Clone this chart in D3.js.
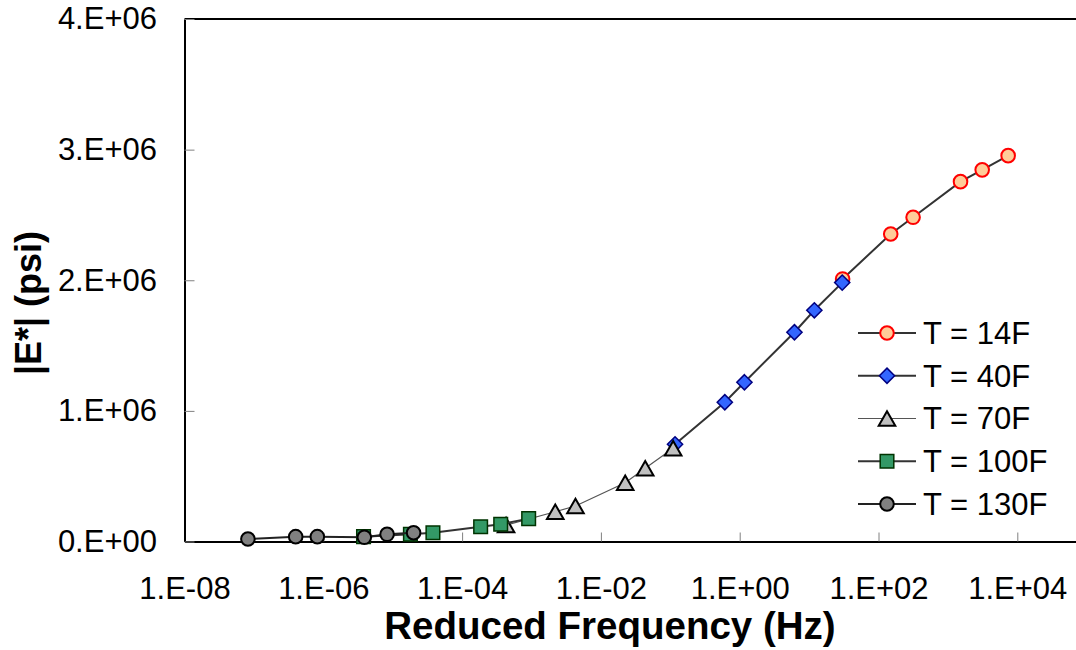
<!DOCTYPE html>
<html>
<head>
<meta charset="utf-8">
<script src="https://cdn.jsdelivr.net/npm/d3@7"></script>
<style>
  html, body { margin: 0; padding: 0; background: #fff; }
  svg { display: block; font-family: Arial, "Liberation Sans", sans-serif; }
</style>
</head>
<body>
<svg id="chart" width="1076" height="650"></svg>
<script>
// ---------------- data ----------------
const seriesNames = ["T = 14F", "T = 40F", "T = 70F", "T = 100F", "T = 130F"];

const freq14 = [30.4, 150, 315, 1520, 3120, 7380];
const mod14  = [2.010e6, 2.354e6, 2.482e6, 2.755e6, 2.845e6, 2.954e6];

const freq40 = [0.117, 0.61, 1.17, 6.15, 11.9, 30];
const mod40  = [0.744e6, 1.066e6, 1.219e6, 1.602e6, 1.770e6, 1.982e6];

const freq70 = [4.3e-4, 2.2e-3, 4.3e-3, 0.0224, 0.0435, 0.11];
const mod70  = [126e3, 228e3, 272e3, 450e3, 561e3, 714e3];

const freq100 = [3.8e-6, 1.8e-5, 3.8e-5, 1.85e-4, 3.6e-4, 9.1e-4];
const mod100  = [37e3, 55e3, 67e3, 113e3, 132e3, 175e3];

const freq130 = [8.2e-8, 4.0e-7, 8.2e-7, 3.9e-6, 8.3e-6, 2.0e-5];
const mod130  = [19e3, 37e3, 37e3, 32e3, 55e3, 67e3];

const xTickValues = [1e-8, 1e-6, 1e-4, 1e-2, 1, 1e2, 1e4];
const xTickLabels = ["1.E-08", "1.E-06", "1.E-04", "1.E-02", "1.E+00", "1.E+02", "1.E+04"];
const yTickValues = [0, 1e6, 2e6, 3e6, 4e6];
const yTickLabels = ["0.E+00", "1.E+06", "2.E+06", "3.E+06", "4.E+06"];

const xTitle = "Reduced Frequency (Hz)";
const yTitle = "|E*| (psi)";

// ---------------- styles ----------------
const styles = [
  { shape: "circle",   fill: "#FFCC99", stroke: "#FF0000", sw: 2,   line: "#333333", lw: 2 },
  { shape: "diamond",  fill: "#3366FF", stroke: "#000080", sw: 1.5, line: "#333333", lw: 2 },
  { shape: "triangle", fill: "#C0C0C0", stroke: "#000000", sw: 2,   line: "#555555", lw: 1.2 },
  { shape: "square",   fill: "#339966", stroke: "#003300", sw: 1.5, line: "#333333", lw: 2 },
  { shape: "circle",   fill: "#808080", stroke: "#000000", sw: 2,   line: "#222222", lw: 2 }
];

const series = [
  [freq14, mod14], [freq40, mod40], [freq70, mod70], [freq100, mod100], [freq130, mod130]
].map((p, i) => ({ name: seriesNames[i], pts: p[0].map((f, j) => ({ f, e: p[1][j] })), st: styles[i] }));

// ---------------- layout ----------------
const svg = d3.select("#chart");
const plotLeft = 184.5, plotTop = 19, plotBottom = 541.5;
const decade = 69.4;

const x = d3.scaleLog().domain([1e-8, 1e6]).range([plotLeft, plotLeft + 14 * decade]);
const y = d3.scaleLinear().domain([0, 4e6]).range([plotBottom, plotTop]);

// top border
svg.append("line").attr("x1", plotLeft).attr("x2", 1076).attr("y1", plotTop).attr("y2", plotTop)
  .attr("stroke", "#000").attr("stroke-width", 2);

// x axis
const xAxis = d3.axisBottom(x).tickValues(xTickValues)
  .tickFormat((d, i) => xTickLabels[i]).tickSizeInner(-9).tickSizeOuter(0).tickPadding(35);
const gx = svg.append("g").attr("transform", `translate(0,${plotBottom})`).call(xAxis);
gx.select(".domain").attr("stroke", "#000").attr("stroke-width", 2);
gx.selectAll(".tick line").attr("stroke", "#808080").attr("stroke-width", 1);
gx.selectAll(".tick text").attr("font-size", 31).attr("fill", "#000")
  .attr("font-family", "Arial, 'Liberation Sans', sans-serif");

// y axis
const yAxis = d3.axisLeft(y).tickValues(yTickValues)
  .tickFormat((d, i) => yTickLabels[i]).tickSizeInner(-10).tickSizeOuter(0).tickPadding(27.5);
const gy = svg.append("g").attr("transform", `translate(${plotLeft},0)`).call(yAxis);
gy.select(".domain").attr("stroke", "#000").attr("stroke-width", 2);
gy.selectAll(".tick line").attr("stroke", "#808080").attr("stroke-width", 1);
gy.selectAll(".tick text").attr("font-size", 31).attr("fill", "#000")
  .attr("font-family", "Arial, 'Liberation Sans', sans-serif");

// titles
svg.append("text").attr("x", 610).attr("y", 639).attr("text-anchor", "middle")
  .attr("font-size", 38.5).attr("font-weight", "bold").text(xTitle);
svg.append("text").attr("transform", "translate(41,303) rotate(-90)").attr("text-anchor", "middle")
  .attr("font-size", 36).attr("font-weight", "bold").text(yTitle);

// ---------------- markers ----------------
function markerPath(shape) {
  const p = d3.path();
  if (shape === "circle") { p.arc(0, 0, 6.8, 0, 2 * Math.PI); p.closePath(); }
  else if (shape === "diamond") { const r = 7.6; p.moveTo(0, -r); p.lineTo(r, 0); p.lineTo(0, r); p.lineTo(-r, 0); p.closePath(); }
  else if (shape === "square") { const r = 6.8; p.rect(-r, -r, 2 * r, 2 * r); }
  else if (shape === "triangle") { const w = 8.3, h = 7.3; p.moveTo(0, -h); p.lineTo(w, h); p.lineTo(-w, h); p.closePath(); }
  return p.toString();
}

const line = d3.line().x(d => x(d.f)).y(d => y(d.e));

series.forEach(s => {
  const g = svg.append("g");
  g.append("path").datum(s.pts).attr("d", line).attr("fill", "none")
    .attr("stroke", s.st.line).attr("stroke-width", s.st.lw);
  g.selectAll("path.m").data(s.pts).join("path").attr("class", "m")
    .attr("transform", d => `translate(${x(d.f)},${y(d.e)})`)
    .attr("d", markerPath(s.st.shape))
    .attr("fill", s.st.fill).attr("stroke", s.st.stroke).attr("stroke-width", s.st.sw);
});

// ---------------- legend ----------------
const legendRows = d3.scaleLinear().domain([0, 4]).range([333, 504]);
const lg = svg.append("g");
series.forEach((s, i) => {
  const cy = legendRows(i);
  lg.append("line").attr("x1", 858).attr("x2", 916).attr("y1", cy).attr("y2", cy)
    .attr("stroke", s.st.line).attr("stroke-width", s.st.lw);
  lg.append("path").attr("transform", `translate(887,${cy})`).attr("d", markerPath(s.st.shape))
    .attr("fill", s.st.fill).attr("stroke", s.st.stroke).attr("stroke-width", s.st.sw);
  lg.append("text").attr("x", 923).attr("y", cy).attr("dy", "0.35em")
    .attr("font-size", 31).attr("fill", "#000").text(s.name);
});
</script>
</body>
</html>
